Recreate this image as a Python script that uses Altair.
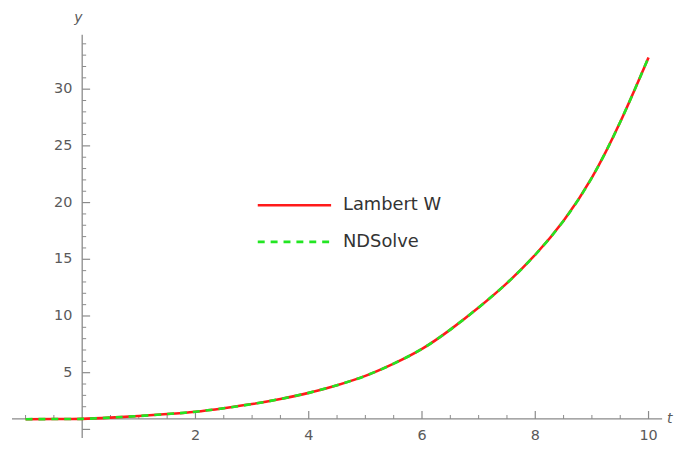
import altair as alt
import pandas as pd

# ---- data ----
t_values = [-1.0, -0.5, 0.0, 0.5, 1.0, 1.5, 2.0, 2.5, 3.0, 3.5, 4.0, 4.5,
            5.0, 5.5, 6.0, 6.5, 7.0, 7.5, 8.0, 8.5, 9.0, 9.5, 10.0]
y_lambert = [0.90, 0.91, 0.93, 1.04, 1.18, 1.35, 1.56, 1.87, 2.23, 2.68, 3.22, 3.90,
             4.72, 5.80, 7.10, 8.80, 10.75, 12.9, 15.4, 18.4, 22.2, 27.1, 32.8]
y_ndsolve = [0.90, 0.91, 0.93, 1.04, 1.18, 1.35, 1.56, 1.87, 2.23, 2.68, 3.22, 3.90,
             4.72, 5.80, 7.10, 8.80, 10.75, 12.9, 15.4, 18.4, 22.2, 27.1, 32.8]

legend_labels = ["Lambert W", "NDSolve"]
x_major_ticks = [2, 4, 6, 8, 10]
x_minor_ticks = [-1, -0.5, 0.5, 1, 1.5, 2.5, 3, 3.5, 4.5, 5, 5.5, 6.5, 7, 7.5,
                 8.5, 9, 9.5]
y_major_ticks = [0, 5, 10, 15, 20, 25, 30]
y_minor_ticks = [2, 3, 4, 6, 7, 8, 9, 11, 12, 13, 14, 16, 17, 18, 19, 21, 22,
                 23, 24, 26, 27, 28, 29, 31, 32, 33, 34]
x_axis_title = "t"
y_axis_title = "y"

# ---- layout / style ----
X_DOMAIN = [-1.24, 10.24]
Y_DOMAIN = [-0.77, 34.8]
ORIGIN_X = 0.0
ORIGIN_Y = 0.92
W, H = 656, 407
AXIS_COLOR = "#8a8a8a"
LABEL_COLOR = "#5a5a5a"
FONT = "DejaVu Sans"
RED = "#ff1a1a"
GREEN = "#22e622"

xs = alt.Scale(domain=X_DOMAIN, nice=False, zero=False)
ys = alt.Scale(domain=Y_DOMAIN, nice=False, zero=False)


def X(field):
    return alt.X(field, type="quantitative", scale=xs, axis=None)


def Y(field):
    return alt.Y(field, type="quantitative", scale=ys, axis=None)


curve_red = pd.DataFrame({"t": t_values, "y": y_lambert})
curve_green = pd.DataFrame({"t": t_values, "y": y_ndsolve})

# axis lines
xaxis_df = pd.DataFrame({"x": [X_DOMAIN[0]], "x2": [X_DOMAIN[1]], "y": [ORIGIN_Y]})
yaxis_df = pd.DataFrame({"x": [ORIGIN_X], "y": [Y_DOMAIN[0]], "y2": [Y_DOMAIN[1]]})

x_axis_line = alt.Chart(xaxis_df).mark_rule(color=AXIS_COLOR, strokeWidth=1.3).encode(
    x=X("x"), x2="x2:Q", y=Y("y"))
y_axis_line = alt.Chart(yaxis_df).mark_rule(color=AXIS_COLOR, strokeWidth=1.3).encode(
    x=X("x"), y=Y("y"), y2="y2:Q")

xmaj = pd.DataFrame({"x": x_major_ticks, "y": ORIGIN_Y, "label": [str(v) for v in x_major_ticks]})
xmin = pd.DataFrame({"x": x_minor_ticks, "y": ORIGIN_Y})
ymaj = pd.DataFrame({"y": y_major_ticks, "x": ORIGIN_X,
                     "label": ["" if v == 0 else str(v) for v in y_major_ticks]})
ymin = pd.DataFrame({"y": y_minor_ticks, "x": ORIGIN_X})

x_major = alt.Chart(xmaj).mark_rule(color=AXIS_COLOR, strokeWidth=1.2, y2Offset=-8).encode(
    x=X("x"), y=Y("y"), y2="y:Q")
x_minor = alt.Chart(xmin).mark_rule(color=AXIS_COLOR, strokeWidth=1.0, y2Offset=-4).encode(
    x=X("x"), y=Y("y"), y2="y:Q")
y_major = alt.Chart(ymaj).mark_rule(color=AXIS_COLOR, strokeWidth=1.2, x2Offset=8).encode(
    y=Y("y"), x=X("x"), x2="x:Q")
y_minor = alt.Chart(ymin).mark_rule(color=AXIS_COLOR, strokeWidth=1.0, x2Offset=4).encode(
    y=Y("y"), x=X("x"), x2="x:Q")

x_labels = alt.Chart(xmaj).mark_text(
    dy=17, align="center", baseline="middle", font=FONT, fontSize=14.5, color=LABEL_COLOR
).encode(x=X("x"), y=Y("y"), text="label:N")
y_labels = alt.Chart(ymaj).mark_text(
    dx=-10, align="right", baseline="middle", font=FONT, fontSize=14.5, color=LABEL_COLOR
).encode(x=X("x"), y=Y("y"), text="label:N")

title_df = pd.DataFrame({"tx": [X_DOMAIN[1]], "ty": [ORIGIN_Y], "yx": [ORIGIN_X]})
t_title = alt.Chart(title_df).mark_text(
    dx=5, align="left", baseline="middle", font=FONT, fontSize=14, fontStyle="italic",
    color=LABEL_COLOR
).encode(x=X("tx"), y=Y("ty"), text=alt.value(x_axis_title))
y_title = alt.Chart(title_df).mark_text(
    dx=-4, align="center", baseline="top", font=FONT, fontSize=14, fontStyle="italic",
    color=LABEL_COLOR
).encode(x=X("yx"), y=alt.value(-24), text=alt.value(y_axis_title))

line_red = alt.Chart(curve_red).mark_line(
    color=RED, strokeWidth=2.6, interpolate="natural"
).encode(x=X("t"), y=Y("y"))
line_green = alt.Chart(curve_green).mark_line(
    color=GREEN, strokeWidth=2.6, strokeDash=[7, 6], interpolate="natural"
).encode(x=X("t"), y=Y("y"))

# manual legend (inside the plot)
leg_red = alt.Chart(title_df).mark_rule(color=RED, strokeWidth=2.6).encode(
    x=alt.value(248), x2=alt.value(322), y=alt.value(172))
leg_green = alt.Chart(title_df).mark_rule(color=GREEN, strokeWidth=2.6, strokeDash=[7, 6]).encode(
    x=alt.value(248), x2=alt.value(322), y=alt.value(209))
leg_t1 = alt.Chart(title_df).mark_text(
    align="left", baseline="middle", font=FONT, fontSize=18, color="#333333"
).encode(x=alt.value(334), y=alt.value(172), text=alt.value(legend_labels[0]))
leg_t2 = alt.Chart(title_df).mark_text(
    align="left", baseline="middle", font=FONT, fontSize=18, color="#333333"
).encode(x=alt.value(334), y=alt.value(209), text=alt.value(legend_labels[1]))

chart = alt.layer(
    x_axis_line, y_axis_line, x_major, x_minor, y_major, y_minor,
    x_labels, y_labels, t_title, y_title,
    line_red, line_green,
    leg_red, leg_green, leg_t1, leg_t2,
).properties(
    width=W, height=H,
    autosize=alt.AutoSizeParams(type="none"),
    padding={"left": 4, "top": 25, "right": 15, "bottom": 10},
    background="white",
).configure_view(stroke=None)

chart.save("out.html", embed_options={"renderer": "svg", "actions": False})
